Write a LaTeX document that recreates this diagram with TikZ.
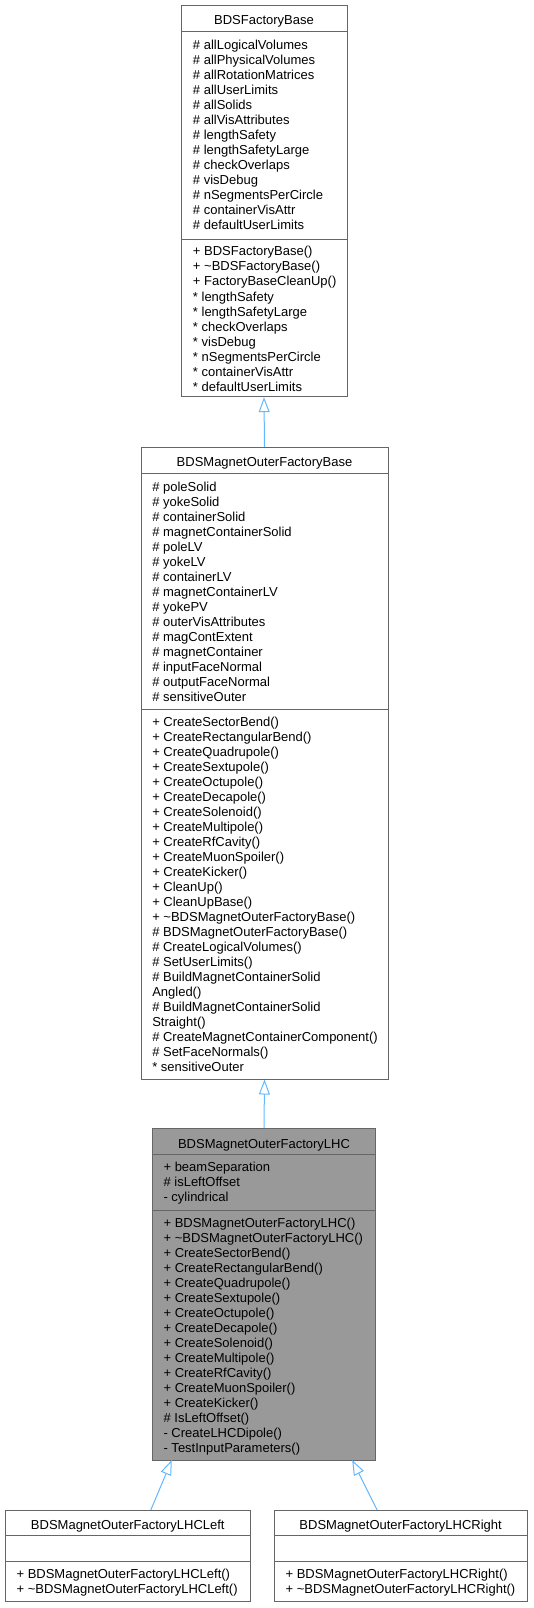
\documentclass[tikz,border=0pt]{standalone}
\usepackage{fontspec}
\setmainfont{Liberation Sans}
\usetikzlibrary{fit,arrows.meta}
\definecolor{edgec}{HTML}{666666}
\definecolor{fillc}{HTML}{999999}
\definecolor{arrc}{HTML}{63B8FF}
\newcommand\boxrows[4]{%
  \foreach \t [count=\i] in {#4}
    \node[row] (#1\i) at (#2,{#3+15*(\i-1)}) {\t};}
\begin{document}
\begin{tikzpicture}[x=0.75pt,y=-0.75pt,
  box/.style={draw=edgec, line width=0.75pt, inner sep=0pt},
  sep/.style={draw=edgec, line width=0.75pt},
  row/.style={anchor=base west, inner sep=0pt, font=\fontsize{9.75}{12}\selectfont},
  ttl/.style={anchor=base, inner sep=0pt, font=\fontsize{9.75}{12}\selectfont},
  inh/.style={draw=arrc, line width=0.75pt, -{Triangle[open, length=11.25pt, width=8.25pt]}}]
\useasboundingbox (0,0) rectangle (534,1608);

% Box 1: BDSFactoryBase
\node[box, fill=white, fit={(181,5.3) (347,396.7)}] (b1) {};
\draw[sep] (181,32) -- (347,32);
\draw[sep] (181,239.3) -- (347,239.3);
\node[ttl] (b1t) at (264,25) {BDSFactoryBase};
\boxrows{b1a}{192.7}{49.3}{\# allLogicalVolumes,\# allPhysicalVolumes,\# allRotationMatrices,\# allUserLimits,\# allSolids,\# allVisAttributes,\# lengthSafety,\# lengthSafetyLarge,\# checkOverlaps,\# visDebug,\# nSegmentsPerCircle,\# containerVisAttr,\# defaultUserLimits}
\boxrows{b1m}{192.7}{256}{+ BDSFactoryBase(),+ \textasciitilde BDSFactoryBase(),+ FactoryBaseCleanUp(),* lengthSafety,* lengthSafetyLarge,* checkOverlaps,* visDebug,* nSegmentsPerCircle,* containerVisAttr,* defaultUserLimits}

% Box 2: BDSMagnetOuterFactoryBase
\node[box, fill=white, fit={(141,447.3) (388,1079)}] (b2) {};
\draw[sep] (141,473.3) -- (388,473.3);
\draw[sep] (141,709) -- (388,709);
\node[ttl] (b2t) at (264.5,466.8) {BDSMagnetOuterFactoryBase};
\boxrows{b2a}{152}{491}{\# poleSolid,\# yokeSolid,\# containerSolid,\# magnetContainerSolid,\# poleLV,\# yokeLV,\# containerLV,\# magnetContainerLV,\# yokePV,\# outerVisAttributes,\# magContExtent,\# magnetContainer,\# inputFaceNormal,\# outputFaceNormal,\# sensitiveOuter}
\boxrows{b2m}{152}{726}{+ CreateSectorBend(),+ CreateRectangularBend(),+ CreateQuadrupole(),+ CreateSextupole(),+ CreateOctupole(),+ CreateDecapole(),+ CreateSolenoid(),+ CreateMultipole(),+ CreateRfCavity(),+ CreateMuonSpoiler(),+ CreateKicker(),+ CleanUp(),+ CleanUpBase(),+ \textasciitilde BDSMagnetOuterFactoryBase(),\# BDSMagnetOuterFactoryBase(),\# CreateLogicalVolumes(),\# SetUserLimits(),\# BuildMagnetContainerSolid,Angled(),\# BuildMagnetContainerSolid,Straight(),\# CreateMagnetContainerComponent(),\# SetFaceNormals(),* sensitiveOuter}

% Box 3: BDSMagnetOuterFactoryLHC
\node[box, fill=fillc, fit={(152.3,1128.7) (375.7,1460)}] (b3) {};
\draw[sep] (152.3,1154.3) -- (375.7,1154.3);
\draw[sep] (152.3,1210) -- (375.7,1210);
\node[ttl] (b3t) at (264,1148.2) {BDSMagnetOuterFactoryLHC};
\boxrows{b3a}{163.3}{1171}{+ beamSeparation,\# isLeftOffset,- cylindrical}
\boxrows{b3m}{163.3}{1227.6}{+ BDSMagnetOuterFactoryLHC(),+ \textasciitilde BDSMagnetOuterFactoryLHC(),+ CreateSectorBend(),+ CreateRectangularBend(),+ CreateQuadrupole(),+ CreateSextupole(),+ CreateOctupole(),+ CreateDecapole(),+ CreateSolenoid(),+ CreateMultipole(),+ CreateRfCavity(),+ CreateMuonSpoiler(),+ CreateKicker(),\# IsLeftOffset(),- CreateLHCDipole(),- TestInputParameters()}

% Box L: BDSMagnetOuterFactoryLHCLeft
\node[box, fill=white, fit={(5,1510) (250.7,1601.7)}] (bl) {};
\draw[sep] (5,1535) -- (250.7,1535);
\draw[sep] (5,1561.5) -- (250.7,1561.5);
\node[ttl] (blt) at (127.8,1529.3) {BDSMagnetOuterFactoryLHCLeft};
\boxrows{blm}{16.3}{1578.3}{+ BDSMagnetOuterFactoryLHCLeft(),+ \textasciitilde BDSMagnetOuterFactoryLHCLeft()}

% Box R: BDSMagnetOuterFactoryLHCRight
\node[box, fill=white, fit={(274,1510) (527.3,1601.7)}] (br) {};
\draw[sep] (274,1535) -- (527.3,1535);
\draw[sep] (274,1561.5) -- (527.3,1561.5);
\node[ttl] (brt) at (400.6,1529.3) {BDSMagnetOuterFactoryLHCRight};
\boxrows{brm}{285.3}{1578.3}{+ BDSMagnetOuterFactoryLHCRight(),+ \textasciitilde BDSMagnetOuterFactoryLHCRight()}

% Inheritance connectors
\draw[inh] (b2.north) -- (b1.south);
\draw[inh] (b3.north) -- (b2.south);
\coordinate (la) at (150.8,1510);
\coordinate (lt) at (171.8,1460);
\coordinate (ra) at (377.1,1510);
\coordinate (rt) at (352.2,1460);
\draw[inh] (la) -- (lt);
\draw[inh] (ra) -- (rt);
\end{tikzpicture}
\end{document}
